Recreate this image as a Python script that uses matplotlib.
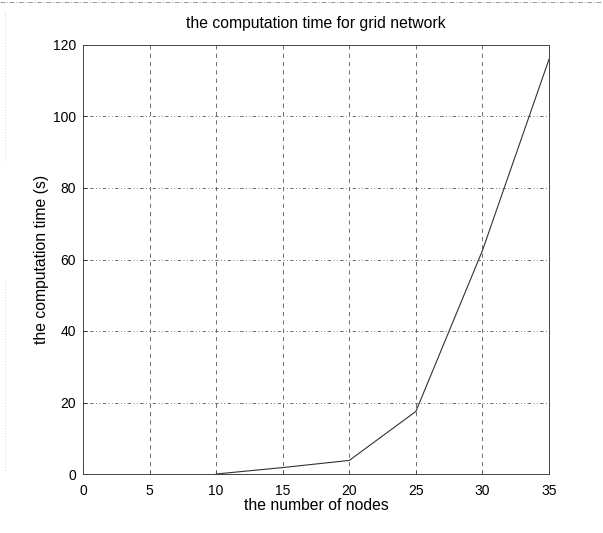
import matplotlib
matplotlib.use("Agg")
import matplotlib.pyplot as plt
from matplotlib.lines import Line2D

nodes = [10, 15, 20, 25, 30, 35]
times = [0.0, 1.8, 3.8, 17.5, 62.5, 116.0]
xticks = [0, 5, 10, 15, 20, 25, 30, 35]
yticks = [0, 20, 40, 60, 80, 100, 120]

plt.rcParams['font.family'] = ['Liberation Sans', 'DejaVu Sans']

fig = plt.figure(figsize=(6.03, 5.33), dpi=100)
ax = fig.add_axes([83/603, 1-474/533, (549-83)/603, (474-45)/533])

ax.plot(nodes, times, color='#333333', linewidth=0.8)

ax.set_xlim(0, 35)
ax.set_ylim(0, 120)
ax.set_xticks(xticks)
ax.set_yticks(yticks)
ax.tick_params(direction='in', length=3, width=0.6, labelsize=10, colors='black', pad=7)
ax.tick_params(axis='y', pad=5)

for x in xticks[1:-1]:
    ax.axvline(x, color='#555555', linewidth=0.6, linestyle=(0, (5, 5)))
for y in yticks[1:-1]:
    ax.axhline(y, color='#555555', linewidth=0.6, linestyle=(0, (1, 3, 1, 3, 4, 3)))

for s in ax.spines.values():
    s.set_linewidth(0.7)
    s.set_color('#444444')

ax.set_title('the computation time for grid network', fontsize=11.3, pad=12)
ax.set_xlabel('the number of nodes', fontsize=11.3, labelpad=0)
ax.set_ylabel('the computation time (s)', fontsize=11.3, labelpad=3)

# faint scan border along the top and left edges
fig.add_artist(Line2D([0, 1], [1 - 2/533, 1 - 2/533], transform=fig.transFigure,
                      color='#888888', linewidth=0.6, linestyle=(0, (6, 2, 1, 2))))
fig.add_artist(Line2D([5/603, 5/603], [1 - 160/533, 1 - 10/533], transform=fig.transFigure,
                      color='#aaaaaa', linewidth=0.5, linestyle=(0, (1, 3))))
fig.add_artist(Line2D([5/603, 5/603], [1 - 470/533, 1 - 280/533], transform=fig.transFigure,
                      color='#aaaaaa', linewidth=0.5, linestyle=(0, (1, 3))))

fig.savefig('out.png', dpi=100)
